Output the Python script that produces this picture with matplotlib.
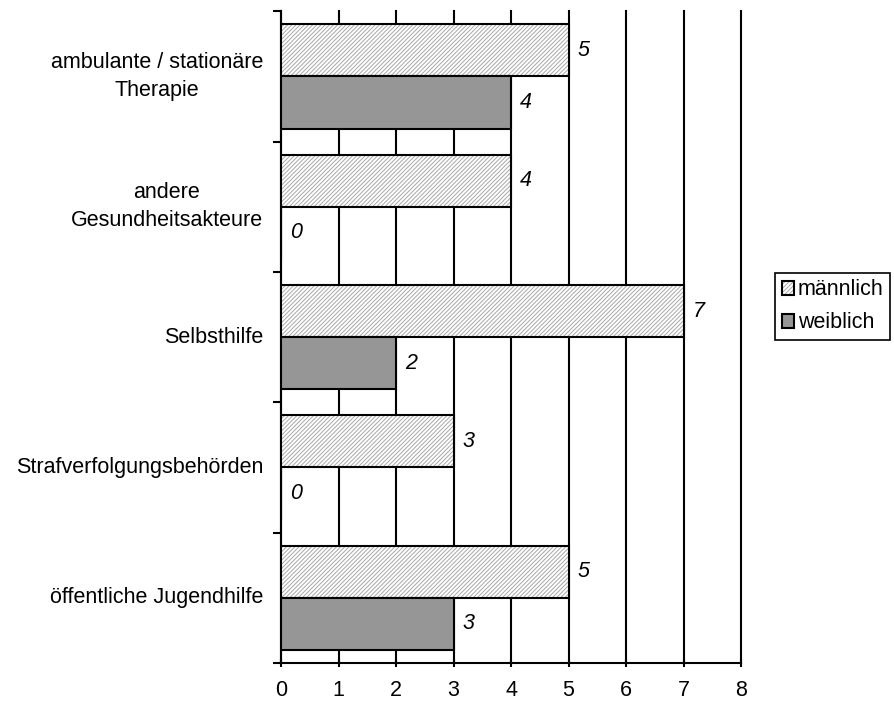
import numpy as np
import matplotlib.pyplot as plt
from matplotlib.patches import Patch

plt.rcParams.update({'font.family': ['Liberation Sans', 'DejaVu Sans'], 'font.size': 15.5})
plt.rcParams['hatch.linewidth'] = 0.7

categories = ['ambulante / stationäre\nTherapie', 'andere\nGesundheitsakteure', 'Selbsthilfe',
              'Strafverfolgungsbehörden', 'öffentliche Jugendhilfe']
maennlich = [5, 4, 7, 3, 5]
weiblich = [4, 0, 2, 0, 3]

fig = plt.figure(figsize=(8.95, 7.06), dpi=100)
ax = fig.add_axes([0.314, 0.061, 0.514, 0.923])

n = len(categories)
pos = np.arange(n)[::-1] + 0.5
h = 0.4

# hatched bars: gray hatch lines, then black outline on top
ax.barh(pos + h / 2, maennlich, height=h, color='white', edgecolor='#a8a8a8', hatch='////////', linewidth=0, zorder=3)
ax.barh(pos + h / 2, maennlich, height=h, fill=False, edgecolor='black', linewidth=1.5, zorder=4)
ax.barh(pos - h / 2, weiblich, height=h, color='#969696', edgecolor='black', linewidth=1.5, zorder=4)

for y, v in zip(pos, maennlich):
    ax.text(v + 0.16, y + h / 2, str(v), style='italic', va='center', ha='left')
for y, v in zip(pos, weiblich):
    ax.text(v + 0.16, y - h / 2, str(v), style='italic', va='center', ha='left')

ax.set_xlim(0, 8)
ax.set_ylim(0, n)
ax.set_xticks(range(9))
ax.set_yticks(range(n + 1))
ax.set_yticklabels([])
ax.set_yticks(pos, minor=True)
ax.set_yticklabels(categories, minor=True, ha='right', va='center',
                   multialignment='center', linespacing=1.45)
ax.tick_params(axis='y', which='minor', length=0, pad=13)
ax.tick_params(axis='y', which='major', length=6, width=1.5, direction='out')
ax.tick_params(axis='x', length=6, width=1.5, direction='inout', pad=9)
ax.grid(axis='x', color='black', linewidth=1.5, zorder=0)
for gl in ax.get_xgridlines():
    gl.set_clip_on(False)
ax.set_axisbelow(True)
for s in ['top', 'right']:
    ax.spines[s].set_visible(False)
for s in ['left', 'bottom']:
    ax.spines[s].set_linewidth(1.5)

h_m = (Patch(facecolor='white', edgecolor='#a8a8a8', hatch='////////', linewidth=0),
       Patch(fill=False, edgecolor='black', linewidth=1.5))
h_w = Patch(facecolor='#969696', edgecolor='black', linewidth=1.5)
leg = fig.legend([h_m, h_w], ['männlich', 'weiblich'], loc='center left',
                 bbox_to_anchor=(0.866, 0.566), handlelength=0.6, handleheight=0.6,
                 handletextpad=0.15, fancybox=False, edgecolor='black', framealpha=1,
                 borderpad=0.3, labelspacing=0.55, borderaxespad=0)
leg.get_frame().set_linewidth(1.2)

fig.savefig('out.png', dpi=100)
